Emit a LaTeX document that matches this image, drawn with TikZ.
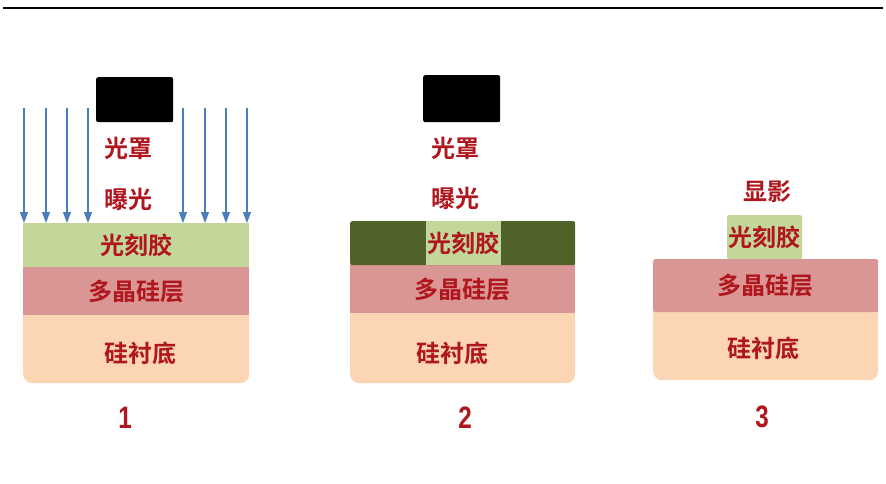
\documentclass[tikz,border=0pt]{standalone}
\usepackage{fontspec}
\newfontfamily\cjk{Noto Sans CJK SC}[UprightFont=* Bold]
\newfontfamily\numfont[FakeStretch=0.78]{Liberation Sans}
\usepackage{xcolor}
\usepackage{tikz}
\usetikzlibrary{arrows.meta,positioning,calc}

\definecolor{resistgreen}{HTML}{C4D79B}
\definecolor{exposedgreen}{HTML}{4F6228}
\definecolor{polyred}{HTML}{DA9694}
\definecolor{subpeach}{HTML}{FCD5B4}
\definecolor{labelred}{HTML}{B0161E}
\definecolor{raysblue}{HTML}{4A7EBB}

\begin{document}
\begin{tikzpicture}[x=1pt, y=-1pt,
    layer/.style={rectangle, anchor=north west, inner sep=0pt, draw=none, font=\cjk\fontsize{24}{24}\selectfont, text=labelred},
    mask/.style={rectangle, anchor=north west, inner sep=0pt, fill=black, rounded corners=2pt},
    tag/.style={font=\cjk\fontsize{24}{24}\selectfont, text=labelred, inner sep=0pt},
    stepnum/.style={font=\numfont\bfseries\fontsize{31}{31}\selectfont, text=labelred, inner sep=0pt},
    ray/.style={raysblue, line width=1.1pt, -{Triangle[width=8pt,length=11pt]}}]

    \useasboundingbox (0,0) rectangle (886,484);

    % top rule
    \draw[line width=2.6pt] (3,8) -- (883,8);

    % Step 1 - exposure
    \node[mask, minimum width=77, minimum height=45] (mask1) at (96,77) {};
    \node[tag] (mtext1) at (128,148) {光罩};
    \node[tag] (etext1) at (128,199) {曝光};
    \node[layer, fill=subpeach, rounded corners=9pt, minimum width=226, minimum height=78] (sub1) at (23,305) {};
    \node[tag] (stext1) at ($(sub1.south)+(4,-30)$) {硅衬底};
    \node[layer, fill=polyred, minimum width=226, minimum height=48] (poly1) at (23,267) {多晶硅层};
    \node[layer, fill=resistgreen, minimum width=226, minimum height=44] (resist1) at (23,223) {光刻胶};
    \foreach \x [count=\i] in {24,46,67,88,183,205,226,247} {
        \coordinate (src\i) at (\x,108);
        \draw[ray] (src\i) -- (src\i |- resist1.north);
    }
    \node[stepnum] (num1) at (125,418) {1};

    % Step 2 - after exposure
    \node[mask, minimum width=77, minimum height=47] (mask2) at (423,75) {};
    \node[tag] (mtext2) at (455,148) {光罩};
    \node[tag] (etext2) at (455,198) {曝光};
    \node[layer, fill=subpeach, rounded corners=9pt, minimum width=225, minimum height=80] (sub2) at (350,303) {};
    \node[tag] (stext2) at ($(sub2.south)+(-10,-30)$) {硅衬底};
    \node[layer, fill=polyred, minimum width=225, minimum height=48] (poly2) at (350,265) {多晶硅层};
    \node[layer, fill=exposedgreen, rounded corners=2pt, minimum width=225, minimum height=44] (dark2) at (350,221) {};
    \node[layer, fill=resistgreen, minimum width=75, minimum height=44] (resist2) at (426,221) {光刻胶};
    \node[stepnum] (num2) at (465,418) {2};

    % Step 3 - development
    \node[tag] (dtext3) at (767,192) {显影};
    \node[layer, fill=subpeach, rounded corners=9pt, minimum width=225, minimum height=78] (sub3) at (653,302) {};
    \node[tag] (stext3) at ($(sub3.south)+(-2,-32)$) {硅衬底};
    \node[layer, fill=polyred, rounded corners=2pt, minimum width=225, minimum height=53] (poly3) at (653,259) {多晶硅层};
    \node[layer, fill=resistgreen, rounded corners=2pt, minimum width=75, minimum height=44] (resist3) at (727,215) {光刻胶};
    \node[stepnum] (num3) at (762,417) {3};

\end{tikzpicture}
\end{document}
